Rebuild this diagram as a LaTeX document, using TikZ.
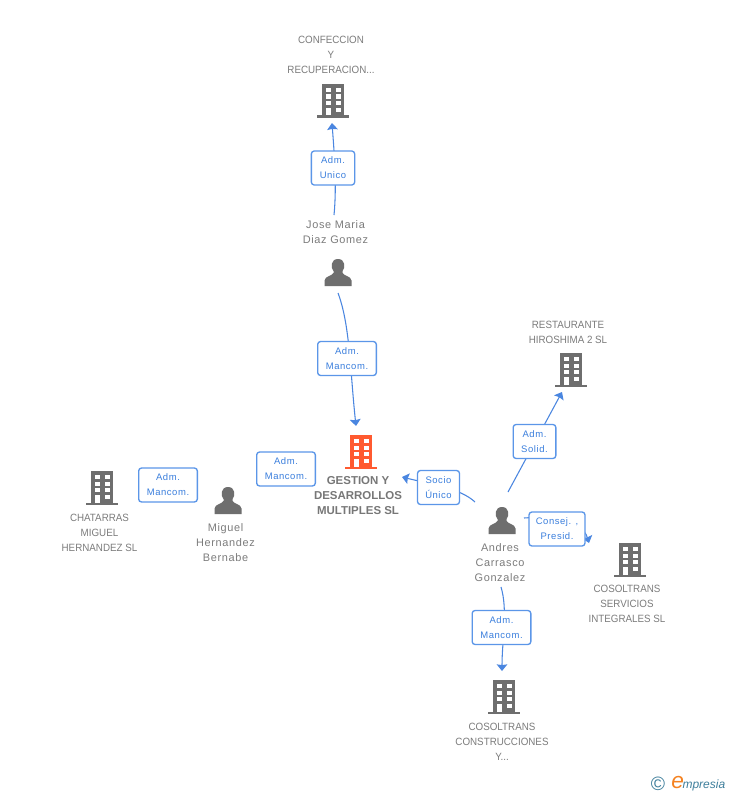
\documentclass[tikz,border=0pt]{standalone}
\usepackage{fontspec}
\setmainfont{Liberation Sans}
\newfontfamily\spacedfont[LetterSpace=6]{Liberation Sans}
\newfontfamily\capsfont[FakeStretch=0.93]{Liberation Sans}
\usetikzlibrary{arrows.meta}
\definecolor{icongray}{HTML}{6E6E6E}
\definecolor{txtgray}{HTML}{7C7C7C}
\definecolor{boldgray}{HTML}{777777}
\definecolor{linkblue}{HTML}{4A86E0}
\definecolor{boxblue}{HTML}{5B96E8}
\definecolor{textblue}{HTML}{3B7FDD}
\definecolor{redicon}{HTML}{FF5A30}
\definecolor{brandteal}{HTML}{3F7F9C}
\definecolor{brandorange}{HTML}{F58220}
\tikzset{
  x=0.75pt,y=-0.75pt,
  iconbox/.style={inner sep=0pt,minimum width=24pt,minimum height=25.5pt},
  lbl/.style={align=center,text=txtgray,font=\capsfont\fontsize{7.9pt}{11.25pt}\selectfont,inner sep=0pt},
  plbl/.style={align=center,text=txtgray,font=\spacedfont\fontsize{8.2pt}{11.25pt}\selectfont,inner sep=0pt},
  lblb/.style={align=center,text=boldgray,font=\fontsize{8.6pt}{11.25pt}\selectfont\bfseries,inner sep=0pt},
  rolebox/.style={draw=boxblue,fill=white,rounded corners=2.2pt,line width=1pt,align=center,text=textblue,
    font=\spacedfont\fontsize{7.1pt}{11.25pt}\selectfont,inner sep=0pt,minimum height=25.5pt},
  conn/.style={draw=linkblue,line width=0.8pt},
  arr/.style={conn,-{Stealth[width=8pt,length=5pt,inset=0.6pt]}},
  pics/building/.style={code={
    \fill[#1] (-11,-17) rectangle (11,14.5);
    \fill[#1] (-16,14.5) rectangle (16,17);
    \foreach \yy in {-13,-6.5,0}{
      \fill[white] (-7.5,\yy) rectangle (-2.5,\yy+4.2);
      \fill[white] (2.5,\yy) rectangle (7.5,\yy+4.2);
    }
    \fill[white] (-7.5,7) rectangle (-2.5,14.5);
    \fill[white] (2.5,7) rectangle (7.5,11.2);
  }},
  pics/person/.style={code={
    \fill[icongray] (0,-14) .. controls (-7.5,-14) and (-7.5,-5) .. (-4.5,-2) -- (-4.5,0)
      .. controls (-6,3) and (-13,3) .. (-13.5,7.5) -- (-13.5,13) -- (13.5,13) -- (13.5,7.5)
      .. controls (13,3) and (6,3) .. (4.5,0) -- (4.5,-2) .. controls (7.5,-5) and (7.5,-14) .. (0,-14) -- cycle;
  }},
}
\begin{document}
\begin{tikzpicture}
\useasboundingbox (0,0) rectangle (728,795);
\fill[white] (0,0) rectangle (728,795);

% icons
\node[iconbox] (gestion) at (361,452) {};
\pic at (gestion) {building=redicon};
\node[iconbox] (confe) at (333,101) {};
\pic at (confe) {building=icongray};
\node[iconbox] (resta) at (571,370) {};
\pic at (resta) {building=icongray};
\node[iconbox] (chata) at (102,488) {};
\pic at (chata) {building=icongray};
\node[iconbox] (serv) at (630,560) {};
\pic at (serv) {building=icongray};
\node[iconbox] (constr) at (504,697) {};
\pic at (constr) {building=icongray};
\node[iconbox] (jose) at (338,273) {};
\pic at (jose) {person};
\node[iconbox] (miguel) at (228,501) {};
\pic at (miguel) {person};
\node[iconbox] (andres) at (502,521) {};
\pic at (andres) {person};

% connector ends
\coordinate (j1) at (334,215);
\coordinate (c1) at (332,123);
\coordinate (j2) at (338,293);
\coordinate (g1) at (356,426);
\coordinate (a1) at (475,502);
\coordinate (g2) at (402,477);
\coordinate (a2) at (508,492);
\coordinate (r1) at (562,392);
\coordinate (a3) at (524,518);
\coordinate (s1) at (589,543);
\coordinate (a4) at (501,587);
\coordinate (k1) at (502,671);

% connectors
\draw[arr] (j1) .. controls (337,185) and (334,150) .. (c1);
\draw[arr] (j2) .. controls (350,325) and (350,370) .. (g1);
\draw[arr] (a1) .. controls (460,488) and (430,484) .. (g2);
\draw[arr] (a2) -- (r1);
\draw[arr] (a3) .. controls (550,516) and (582,520) .. (s1);
\draw[arr] (a4) .. controls (508,610) and (502,640) .. (k1);

% role boxes
\node[rolebox,minimum width=32.5pt] (r_unico) at (333,168) {Adm.\\Unico};
\node[rolebox,minimum width=44pt] (r_jose) at (347,358.5) {Adm.\\Mancom.};
\node[rolebox,minimum width=44pt] (r_mig) at (286,469) {Adm.\\Mancom.};
\node[rolebox,minimum width=44pt] (r_chat) at (168,485) {Adm.\\Mancom.};
\node[rolebox,minimum width=31.5pt] (r_socio) at (438.5,487.5) {Socio\\Único};
\node[rolebox,minimum width=32pt] (r_sol) at (534.5,441.5) {Adm.\\Solid.};
\node[rolebox,minimum width=42pt] (r_cons) at (557,529) {Consej. ,\\Presid.};
\node[rolebox,minimum width=44pt] (r_con) at (501.5,627.5) {Adm.\\Mancom.};

% labels
\node[lbl] (t_confe) at (331,55) {CONFECCION\\Y\\RECUPERACION...};
\node[plbl] (t_jose) at (335.5,232) {Jose Maria\\Diaz Gomez};
\node[lbl] (t_resta) at (568,332) {RESTAURANTE\\HIROSHIMA 2 SL};
\node[lblb] (t_gestion) at (358,496) {GESTION Y\\DESARROLLOS\\MULTIPLES SL};
\node[lbl] (t_chata) at (99.5,532.5) {CHATARRAS\\MIGUEL\\HERNANDEZ SL};
\node[plbl] (t_miguel) at (225.5,543) {Miguel\\Hernandez\\Bernabe};
\node[plbl] (t_andres) at (500,563) {Andres\\Carrasco\\Gonzalez};
\node[lbl] (t_serv) at (627,604) {COSOLTRANS\\SERVICIOS\\INTEGRALES SL};
\node[lbl] (t_constr) at (502,741.5) {COSOLTRANS\\CONSTRUCCIONES\\Y...};

% brand
\node[inner sep=0pt,text=brandteal,font=\fontsize{14.5pt}{14.5pt}\selectfont] (copyr) at (658,784) {©};
\node[inner sep=0pt,anchor=base west,font=\fontsize{9pt}{10pt}\selectfont\itshape,text=brandteal] (brand) at (671,788) {\textcolor{brandorange}{\fontsize{17pt}{10pt}\selectfont e}\kern-1pt mpresia};
\end{tikzpicture}
\end{document}
